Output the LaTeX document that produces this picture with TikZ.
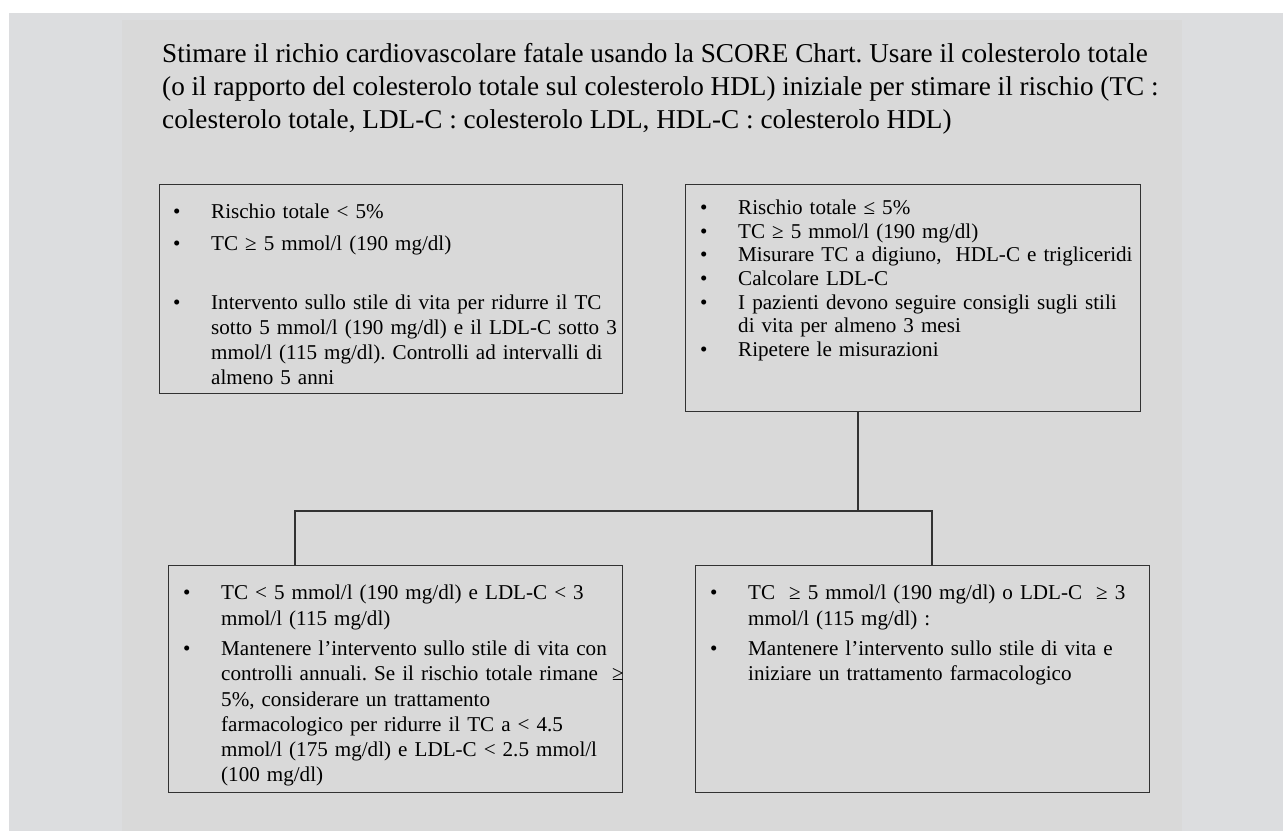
\documentclass[tikz,border=0pt]{standalone}
\usepackage{fontspec}
\setmainfont{Liberation Serif}
\definecolor{outerc}{RGB}{220,221,223}
\definecolor{innerc}{RGB}{217,217,217}
\definecolor{linec}{RGB}{50,50,50}
\newcommand{\bitem}[2][0pt]{\par\vspace{#1}\noindent\hangindent=38pt\hangafter=1\makebox[38pt][l]{\textbullet}#2\par}
\begin{document}
\frenchspacing
\begin{tikzpicture}[x=1pt,y=-1pt,
  box/.style={draw=linec, line width=1.4pt, rectangle, inner sep=0pt, anchor=north west},
  txt/.style={anchor=north west, inner sep=0pt, text width=#1, align=left},
  conn/.style={draw=linec, line width=1.4pt}]
\useasboundingbox (0,0) rectangle (1283,831);
\fill[outerc] (9,13) rectangle (1283,831);
\fill[innerc] (122,20) rectangle (1182,831);

\node[anchor=north west, inner sep=0pt, align=left, font=\fontsize{27.2}{33}\selectfont] (title) at (162,39)
  {\strut Stimare il richio cardiovascolare fatale usando la SCORE Chart. Usare il colesterolo totale\\
   (o il rapporto del colesterolo totale sul colesterolo HDL) iniziale per stimare il rischio (TC :\\
   colesterolo totale, LDL-C : colesterolo LDL, HDL-C : colesterolo HDL)};

% boxes
\node[box, minimum width=463pt, minimum height=209pt] (tl) at (159,184) {};
\node[box, minimum width=455pt, minimum height=227pt] (tr) at (685,184) {};
\node[box, minimum width=454pt, minimum height=227pt] (bl) at (168,565) {};
\node[box, minimum width=454pt, minimum height=227pt] (br) at (695,565) {};

% texts
\node[txt=460pt, font=\fontsize{21.1}{25}\selectfont] (tlt) at ([xshift=14pt,yshift=-9.5pt]tl.north west) {%
  \bitem{\strut Rischio totale < 5\%}
  \bitem[7pt]{TC ≥ 5 mmol/l (190 mg/dl)}
  \bitem[34pt]{Intervento sullo stile di vita per ridurre il TC\newline sotto 5 mmol/l (190 mg/dl) e il LDL-C sotto 3\newline mmol/l (115 mg/dl). Controlli ad intervalli di\newline almeno 5 anni}};

\node[txt=450pt, font=\fontsize{21.1}{23.7}\selectfont] (trt) at ([xshift=15pt,yshift=-6.4pt]tr.north west) {%
  \bitem{\strut Rischio totale ≤ 5\%}
  \bitem{TC ≥ 5 mmol/l (190 mg/dl)}
  \bitem{Misurare TC a digiuno, \ HDL-C e trigliceridi}
  \bitem{Calcolare LDL-C}
  \bitem{I pazienti devono seguire consigli sugli stili\newline di vita per almeno 3 mesi}
  \bitem{Ripetere le misurazioni}};

\node[txt=450pt, font=\fontsize{21.1}{25.3}\selectfont] (blt) at ([xshift=15pt,yshift=-9.3pt]bl.north west) {%
  \bitem{\strut TC < 5 mmol/l (190 mg/dl) e LDL-C < 3\newline mmol/l (115 mg/dl)}
  \bitem[5pt]{Mantenere l’intervento sullo stile di vita con\newline controlli annuali. Se il rischio totale rimane \ ≥\newline 5\%, considerare un trattamento\newline farmacologico per ridurre il TC a < 4.5\newline mmol/l (175 mg/dl) e LDL-C < 2.5 mmol/l\newline (100 mg/dl)}};

\node[txt=450pt, font=\fontsize{21.1}{25.3}\selectfont] (brt) at ([xshift=15pt,yshift=-9.3pt]br.north west) {%
  \bitem{\strut TC \ ≥ 5 mmol/l (190 mg/dl) o LDL-C \ ≥ 3\newline mmol/l (115 mg/dl) :}
  \bitem[5pt]{Mantenere l’intervento sullo stile di vita e\newline iniziare un trattamento farmacologico}};

% connectors
\coordinate (hub) at (858,511);
\draw[conn] (tr.south -| hub) -- (hub);
\draw[conn] (bl.north -| 295,0) |- (hub);
\draw[conn] (br.north -| 932,0) |- (hub);
\end{tikzpicture}
\end{document}
